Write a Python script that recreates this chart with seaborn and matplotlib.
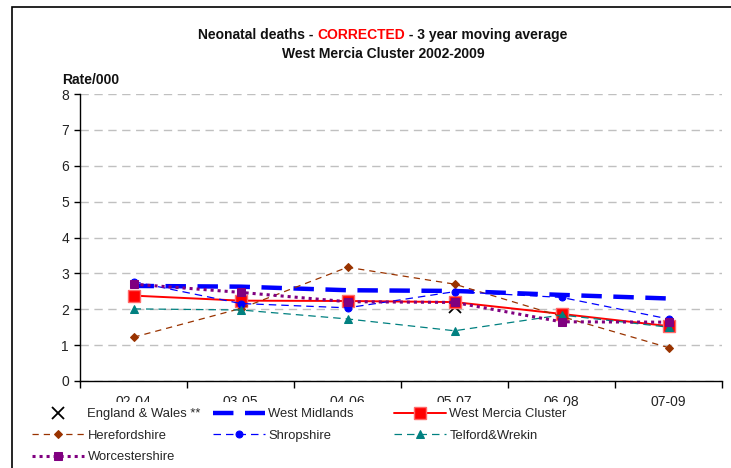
"""
Neonatal deaths (corrected), 3 year moving average, West Mercia Cluster 2002-2009.
"""
import matplotlib
matplotlib.use('Agg')
import matplotlib.pyplot as plt
from matplotlib.patches import Rectangle
import numpy as np
import seaborn as sns

# -- Data ----------------------------------------------------------------------
periods = ['02-04', '03-05', '04-06', '05-07', '06-08', '07-09']
england_wales = [np.nan, np.nan, np.nan, 2.07, np.nan, np.nan]
west_midlands = [2.65, 2.63, 2.53, 2.51, 2.40, 2.30]
west_mercia = [2.38, 2.24, 2.23, 2.20, 1.87, 1.53]
herefordshire = [1.22, 2.02, 3.17, 2.70, 1.80, 0.93]
shropshire = [2.77, 2.16, 2.04, 2.49, 2.33, 1.73]
telford_wrekin = [2.01, 1.98, 1.73, 1.40, 1.84, 1.50]
worcestershire = [2.70, 2.47, 2.21, 2.19, 1.65, 1.64]

series = [
    ('England & Wales **', england_wales,
     dict(color='black', marker='x', linestyle='none', markersize=8,
          markeredgewidth=1.3, markeredgecolor='black')),
    ('West Midlands', west_midlands,
     dict(color='#0000ff', linewidth=3.2, linestyle=(0, (4.6, 2.6)),
          dash_capstyle='butt')),
    ('West Mercia Cluster', west_mercia,
     dict(color='#ff0000', linewidth=1.4, marker='s', markersize=8,
          markerfacecolor='#ff0000', markeredgecolor='#ff6a6a',
          markeredgewidth=1)),
    ('Herefordshire', herefordshire,
     dict(color='#993300', linewidth=0.9, linestyle=(0, (5, 4)),
          marker='D', markersize=4, markerfacecolor='#993300',
          markeredgecolor='#993300')),
    ('Shropshire', shropshire,
     dict(color='#0000ff', linewidth=0.9, linestyle=(0, (6, 4)),
          marker='o', markersize=5, markerfacecolor='#0000ff',
          markeredgecolor='#0000ff')),
    ('Telford&Wrekin', telford_wrekin,
     dict(color='#008080', linewidth=0.9, linestyle=(0, (6, 4)),
          marker='^', markersize=5.5, markerfacecolor='#008080',
          markeredgecolor='#008080')),
    ('Worcestershire', worcestershire,
     dict(color='#800080', linewidth=2.2, linestyle=(0, (1, 1.3)),
          dash_capstyle='butt', marker='s', markersize=6,
          markerfacecolor='#800080', markeredgecolor='#800080')),
]

# -- Style -----------------------------------------------------------------------
sns.set_theme(style='white')
plt.rcParams['font.family'] = ['Liberation Sans', 'DejaVu Sans']

W, H = 731, 468
fig = plt.figure(figsize=(W / 100, H / 100), dpi=100)
ax = fig.add_axes([80 / W, 1 - 381 / H, (722 - 80) / W, (381 - 94) / H])

xs = list(range(len(periods)))
for name, values, style in series:
    sns.lineplot(x=xs, y=values, ax=ax, estimator=None, sort=False,
                 label=name, **style)

handles, labels = ax.get_legend_handles_labels()
if ax.get_legend() is not None:
    ax.get_legend().remove()

# -- Axes ------------------------------------------------------------------------
ax.set_xlim(-0.5, len(periods) - 0.5)
ax.set_ylim(0, 8)
ax.set_yticks(range(0, 9))
ax.set_xticks(np.arange(-0.5, len(periods), 1.0))
ax.set_xticklabels([])
ax.set_xticks(xs, minor=True)
ax.set_xticklabels(periods, minor=True)
ax.set_xlabel('')
ax.set_ylabel('')

ax.tick_params(axis='x', which='major', direction='out', length=5,
               width=1, color='black', bottom=True)
ax.tick_params(axis='x', which='minor', length=0, pad=10, labelsize=10,
               labelcolor='#222222', bottom=True)
ax.tick_params(axis='y', direction='out', length=4, width=1, color='black',
               left=True, pad=4, labelsize=10, labelcolor='#222222')

ax.grid(False)
ax.yaxis.grid(True, color='#c0c0c0', linestyle=(0, (6, 4)), linewidth=1)
ax.set_axisbelow(True)
for side in ('top', 'right'):
    ax.spines[side].set_visible(False)
for side in ('left', 'bottom'):
    ax.spines[side].set_color('black')
    ax.spines[side].set_linewidth(1)

fig.text(62 / W, 1 - 80 / H, 'Rate/000', fontsize=10, fontweight='bold',
         va='center', ha='left', color='#111111')

# -- Title with red word -----------------------------------------------------------
fig.canvas.draw()
renderer = fig.canvas.get_renderer()
title_parts = [('Neonatal deaths - ', '#111111'), ('CORRECTED', '#ff0000'),
               (' - 3 year moving average', '#111111')]
pieces = [fig.text(0, 1 - 35 / H, s, color=c, fontsize=10, fontweight='bold',
                   va='center', ha='left') for s, c in title_parts]
widths = [p.get_window_extent(renderer).width for p in pieces]
x_px = 383 - sum(widths) / 2
for p, w in zip(pieces, widths):
    p.set_x(x_px / W)
    x_px += w
fig.text(383 / W, 1 - 53.5 / H, 'West Mercia Cluster 2002-2009', fontsize=10,
         fontweight='bold', va='center', ha='center', color='#111111')

# -- Legend (white box over the category labels, like the original) -------------
fig.add_artist(Rectangle((28 / W, 0), (567 - 28) / W, (468 - 402) / H,
                         transform=fig.transFigure, facecolor='white',
                         edgecolor='none', zorder=3))
columns = [[0, 3, 6], [1, 4], [2, 5]]
col_x = [32, 213, 394]
for idxs, xpx in zip(columns, col_x):
    fig.legend([handles[i] for i in idxs], [labels[i] for i in idxs],
               loc='upper left', bbox_to_anchor=(xpx / W, 1 - 408 / H),
               frameon=False, fontsize=9.4, handlelength=4.0,
               handletextpad=0.25, labelspacing=0.72, borderpad=0,
               borderaxespad=0, numpoints=1)

# outer chart border
fig.add_artist(Rectangle((12 / W, -1), 2, 2 - 7 / H, transform=fig.transFigure,
                         fill=False, edgecolor='black', linewidth=1.2))

fig.savefig('out.png', dpi=100)
plt.close(fig)
print('saved out.png')
